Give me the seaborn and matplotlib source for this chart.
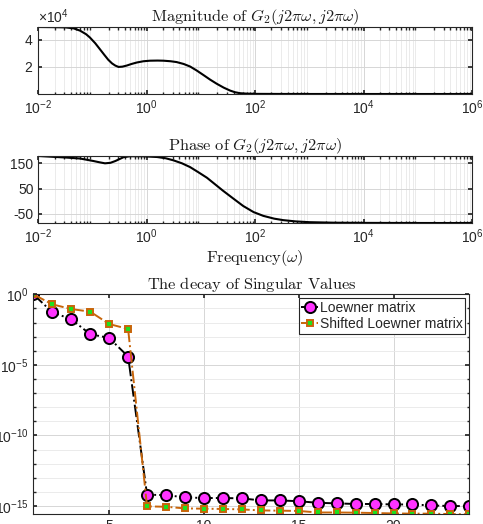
"""
Bode-type plot of G2 plus singular value decay of the Loewner pencil.
"""

import numpy as np
import matplotlib
matplotlib.use('Agg')
import matplotlib.pyplot as plt
import matplotlib.ticker as mticker
import seaborn as sns

# ---------------------------------------------------------------------------
# Data
# ---------------------------------------------------------------------------
# magnitude of G2 (log10 of frequency, value in units of 1e4)
mag_logw = [-2.0, -1.75, -1.5, -1.35, -1.23, -1.12, -1.05, -0.95, -0.86, -0.78,
            -0.71, -0.64, -0.58, -0.52, -0.45, -0.37, -0.28, -0.18, -0.06, 0.06,
            0.2, 0.31, 0.44, 0.55, 0.68, 0.8, 0.92, 1.05, 1.17, 1.29,
            1.42, 1.54, 1.63, 1.72, 1.85, 2.03, 2.5, 3.0, 4.0, 5.0, 6.0]
mag_vals = [4.95, 4.94, 4.92, 4.85, 4.68, 4.42, 4.18, 3.75, 3.29, 2.88,
            2.53, 2.26, 2.10, 2.00, 2.02, 2.10, 2.22, 2.33, 2.42, 2.46,
            2.47, 2.46, 2.42, 2.36, 2.22, 2.03, 1.74, 1.39, 1.06, 0.76,
            0.47, 0.25, 0.13, 0.06, 0.025, 0.01, 0.004, 0.002, 0.001, 0.0007, 0.0006]

# phase of G2 (log10 of frequency, degrees)
ph_logw = [-2.0, -1.75, -1.5, -1.23, -0.98, -0.87, -0.77, -0.67, -0.58, -0.43,
           -0.31, -0.1, 0.19, 0.35, 0.49, 0.65, 0.8, 0.95, 1.11, 1.26,
           1.41, 1.6, 1.78, 1.97, 2.15, 2.35, 2.52, 2.75, 3.0, 3.45,
           4.0, 5.0, 6.0]
ph_vals = [179, 176, 173, 169, 159, 154, 150, 152, 159, 174,
           178, 178, 175, 170, 162, 150, 135, 115, 93, 67,
           41, 10, -19, -43, -58, -69, -75, -80, -83, -85,
           -85.8, -86.2, -86.3]

# singular values
sv_index = list(range(1, 25))
sv_loewner = [1.0, 5.4e-2, 1.7e-2, 1.5e-3, 8.1e-4, 3.9e-5, 6.3e-15, 6.0e-15,
              4.1e-15, 3.7e-15, 3.7e-15, 3.5e-15, 2.5e-15, 2.5e-15, 2.2e-15,
              1.7e-15, 1.55e-15, 1.4e-15, 1.4e-15, 1.3e-15, 1.3e-15, 1.1e-15,
              1.0e-15, 1.0e-15]
sv_shifted = [1.0, 1.95e-1, 9.1e-2, 5.9e-2, 7.9e-3, 3.5e-3, 9.5e-16, 8.9e-16,
              6.8e-16, 6.5e-16, 6.2e-16, 5.8e-16, 4.9e-16, 4.7e-16, 4.5e-16,
              3.5e-16, 3.5e-16, 3.4e-16, 3.2e-16, 3.0e-16, 2.9e-16, 2.9e-16,
              2.7e-16, 2.6e-16]

# ---------------------------------------------------------------------------
# Style (MATLAB look)
# ---------------------------------------------------------------------------
sns.set_theme(style='ticks')
plt.rcParams['font.family'] = ['Liberation Sans', 'DejaVu Sans']
plt.rcParams['mathtext.fontset'] = 'custom'
plt.rcParams['mathtext.rm'] = 'Liberation Sans'
plt.rcParams['mathtext.it'] = 'Liberation Sans:italic'
plt.rcParams['mathtext.bf'] = 'Liberation Sans:bold'
plt.rcParams['axes.edgecolor'] = '#262626'
plt.rcParams['axes.linewidth'] = 0.8
plt.rcParams['xtick.direction'] = 'in'
plt.rcParams['ytick.direction'] = 'in'
plt.rcParams['xtick.top'] = True
plt.rcParams['ytick.right'] = True
plt.rcParams['xtick.color'] = '#262626'
plt.rcParams['ytick.color'] = '#262626'
plt.rcParams['xtick.labelcolor'] = '#262626'
plt.rcParams['ytick.labelcolor'] = '#262626'
plt.rcParams['xtick.major.size'] = 3
plt.rcParams['ytick.major.size'] = 3
plt.rcParams['xtick.minor.size'] = 1.8
plt.rcParams['ytick.minor.size'] = 1.8
plt.rcParams['xtick.labelsize'] = 10
plt.rcParams['ytick.labelsize'] = 10
plt.rcParams['axes.unicode_minus'] = False

GRID_MAJ = dict(color='#d6d6d6', linewidth=0.7)
GRID_MIN = dict(color='#e8e8e8', linewidth=0.6)
TITLE_KW = dict(fontsize=11.8, math_fontfamily='cm', color='#1a1a1a', pad=3)

fig = plt.figure(figsize=(4.83, 5.24), dpi=100)
ax_mag = fig.add_axes([0.0793, 0.8206, 0.898, 0.1279])
ax_ph = fig.add_axes([0.0793, 0.5744, 0.898, 0.1279])
ax_sv = fig.add_axes([0.069, 0.0185, 0.9027, 0.4198])

freq_mag = 10.0 ** np.array(mag_logw)
freq_ph = 10.0 ** np.array(ph_logw)
mag = np.array(mag_vals) * 1e4


def style_freq_axis(ax):
    ax.set_xscale('log')
    ax.set_xlim(1e-2, 1e6)
    ax.xaxis.set_major_locator(mticker.FixedLocator([1e-2, 1e0, 1e2, 1e4, 1e6]))
    ax.xaxis.set_minor_locator(mticker.LogLocator(base=10, subs=np.arange(2, 10), numticks=20))
    ax.xaxis.set_minor_formatter(mticker.NullFormatter())
    ax.grid(True, which='major', axis='both', **GRID_MAJ)
    ax.grid(True, which='minor', axis='x', **GRID_MIN)
    ax.set_axisbelow(True)


# ── Magnitude ────────────────────────────────────────────────────────────────
sns.lineplot(x=freq_mag, y=mag, ax=ax_mag, color='black', linewidth=1.5)
style_freq_axis(ax_mag)
ax_mag.set_ylim(mag.min(), mag.max())
ax_mag.yaxis.set_major_locator(mticker.FixedLocator([2e4, 4e4]))
fmt = mticker.ScalarFormatter(useMathText=True)
fmt.set_powerlimits((0, 0))
ax_mag.yaxis.set_major_formatter(fmt)
ax_mag.yaxis.get_offset_text().set_fontsize(10)
ax_mag.yaxis.get_offset_text().set_color('#262626')
ax_mag.set_title(r'$\mathrm{Magnitude\ of\ }G_2(j2\pi\omega, j2\pi\omega)$', **TITLE_KW)

# ── Phase ────────────────────────────────────────────────────────────────────
sns.lineplot(x=freq_ph, y=ph_vals, ax=ax_ph, color='black', linewidth=1.5)
style_freq_axis(ax_ph)
ax_ph.set_ylim(min(ph_vals), max(ph_vals))
ax_ph.yaxis.set_major_locator(mticker.FixedLocator([-50, 50, 150]))
ax_ph.set_title(r'$\mathrm{Phase\ of\ }G_2(j2\pi\omega, j2\pi\omega)$', **TITLE_KW)
ax_ph.set_xlabel(r'$\mathrm{Frequency}(\omega)$', fontsize=11.8,
                 math_fontfamily='cm', color='#1a1a1a', labelpad=1)

# ── Singular values ──────────────────────────────────────────────────────────
sns.lineplot(x=sv_index, y=sv_loewner, ax=ax_sv, color='black', linewidth=1.4,
             linestyle='-.', marker='o', markersize=8, markerfacecolor='#ff33ff',
             markeredgecolor='black', markeredgewidth=1.4, label='Loewner matrix')
sns.lineplot(x=sv_index, y=sv_shifted, ax=ax_sv, color='#c8650a', linewidth=1.4,
             linestyle='-.', marker='s', markersize=4.3, markerfacecolor='#1ee01e',
             markeredgecolor='#c8650a', markeredgewidth=1.4,
             label='Shifted Loewner matrix')
ax_sv.set_yscale('log')
ax_sv.set_xlim(1, 24)
ax_sv.set_ylim(min(sv_shifted), 1.0)
ax_sv.xaxis.set_major_locator(mticker.FixedLocator([5, 10, 15, 20]))
ax_sv.yaxis.set_major_locator(mticker.FixedLocator([1e-15, 1e-10, 1e-5, 1e0]))
ax_sv.yaxis.set_minor_locator(mticker.FixedLocator(
    [10.0 ** k for k in range(-16, 0) if k % 5 != 0]))
ax_sv.yaxis.set_minor_formatter(mticker.NullFormatter())
ax_sv.xaxis.set_ticks_position('both')
ax_sv.grid(True, which='major', axis='both', **GRID_MAJ)
ax_sv.grid(True, which='minor', axis='y', **GRID_MIN)
ax_sv.set_axisbelow(True)
ax_sv.set_title(r'$\mathrm{The\ decay\ of\ Singular\ Values}$', **TITLE_KW)
leg = ax_sv.legend(loc='upper right', fontsize=10, frameon=True, fancybox=False,
                   edgecolor='#262626', framealpha=1, borderpad=0.2,
                   handlelength=1.2, handletextpad=0.1, labelspacing=0.15,
                   borderaxespad=0.3)
leg.get_frame().set_linewidth(0.8)
for a in (ax_mag, ax_ph, ax_sv):
    a.set_ylabel('')
    for s in a.spines.values():
        s.set_zorder(5)

fig.savefig('out.png', dpi=100)
